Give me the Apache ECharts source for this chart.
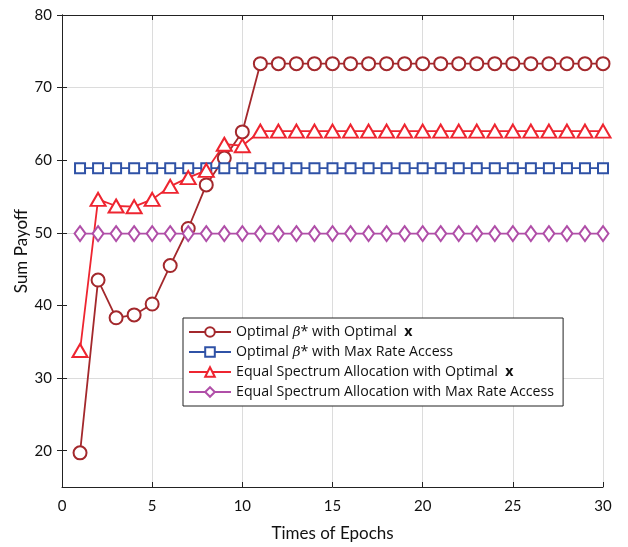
<!DOCTYPE html>
<html>
<head>
<meta charset="utf-8">
<script src="https://cdn.jsdelivr.net/npm/echarts@6/dist/echarts.min.js"></script>
<style>
  html, body { margin: 0; padding: 0; background: #fff; }
  #main { width: 628px; height: 547px; }
</style>
</head>
<body>
<div id="main"></div>
<script>
// 数据
var epochs = [];
for (var i = 1; i <= 30; i++) epochs.push(i);

var optBetaOptX = [19.7, 43.5, 38.3, 38.7, 40.2, 45.5, 50.6, 56.6, 60.3, 63.9,
    73.3, 73.3, 73.3, 73.3, 73.3, 73.3, 73.3, 73.3, 73.3, 73.3,
    73.3, 73.3, 73.3, 73.3, 73.3, 73.3, 73.3, 73.3, 73.3, 73.3];
var optBetaMaxRate = [58.9, 58.9, 58.9, 58.9, 58.9, 58.9, 58.9, 58.9, 58.9, 58.9,
    58.9, 58.9, 58.9, 58.9, 58.9, 58.9, 58.9, 58.9, 58.9, 58.9,
    58.9, 58.9, 58.9, 58.9, 58.9, 58.9, 58.9, 58.9, 58.9, 58.9];
var equalOptX = [33.8, 54.6, 53.7, 53.6, 54.6, 56.4, 57.6, 58.6, 62.2, 62.0,
    64.0, 64.0, 64.0, 64.0, 64.0, 64.0, 64.0, 64.0, 64.0, 64.0,
    64.0, 64.0, 64.0, 64.0, 64.0, 64.0, 64.0, 64.0, 64.0, 64.0];
var equalMaxRate = [49.9, 49.9, 49.9, 49.9, 49.9, 49.9, 49.9, 49.9, 49.9, 49.9,
    49.9, 49.9, 49.9, 49.9, 49.9, 49.9, 49.9, 49.9, 49.9, 49.9,
    49.9, 49.9, 49.9, 49.9, 49.9, 49.9, 49.9, 49.9, 49.9, 49.9];

var xTicks = [0, 5, 10, 15, 20, 25, 30];
var yTicks = [20, 30, 40, 50, 60, 70, 80];

var names = [
    'Optimal β* with Optimal x',
    'Optimal β* with Max Rate Access',
    'Equal Spectrum Allocation with Optimal x',
    'Equal Spectrum Allocation with Max Rate Access'
];
var legendText = {};
legendText[names[0]] = '{t|Optimal }{b|β}{t|* with Optimal  }{x|x}';
legendText[names[1]] = '{t|Optimal }{b|β}{t|* with Max Rate Access}';
legendText[names[2]] = '{t|Equal Spectrum Allocation with Optimal  }{x|x}';
legendText[names[3]] = '{t|Equal Spectrum Allocation with Max Rate Access}';

function pairs(arr) {
    return arr.map(function (v, i) { return [epochs[i], v]; });
}

var font = 'Lato, "Open Sans", sans-serif';
var legendFont = '"Open Sans", Lato, sans-serif';

var myChart = echarts.init(document.getElementById('main'));

var boxAxis = {
    axisLine: { show: true, lineStyle: { color: '#222', width: 1 } },
    axisTick: { show: true, inside: true, length: 5, lineStyle: { color: '#222' } },
    axisLabel: { show: false },
    splitLine: { show: false }
};

function lineSeries(name, data, color, symbol, size) {
    return {
        name: name,
        type: 'line',
        data: pairs(data),
        symbol: symbol,
        symbolSize: size,
        showAllSymbol: true,
        lineStyle: { color: color, width: 1.8 },
        itemStyle: { color: color, borderColor: color, borderWidth: 1.5 },
        emphasis: { disabled: true },
        z: 3
    };
}

var option = {
    backgroundColor: '#fff',
    animation: false,
    textStyle: { fontFamily: font },
    grid: { left: 62, right: 25, top: 15, bottom: 56 },
    legend: {
        left: 183,
        top: 318,
        orient: 'vertical',
        data: names,
        itemWidth: 42,
        itemHeight: 12,
        itemGap: 6,
        padding: [7, 9, 7, 5],
        borderColor: '#222',
        borderWidth: 1,
        backgroundColor: '#fff',
        formatter: function (name) { return legendText[name]; },
        textStyle: {
            rich: {
                t: { fontFamily: legendFont, fontSize: 14.2, color: '#111' },
                b: { fontFamily: '"DejaVu Serif", serif', fontStyle: 'italic', fontSize: 13.5, color: '#111' },
                x: { fontFamily: legendFont, fontWeight: 'bold', fontSize: 14.2, color: '#111' }
            }
        }
    },
    xAxis: [{
        type: 'value',
        min: 0,
        max: 30,
        interval: 5,
        name: 'Times of Epochs',
        nameLocation: 'middle',
        nameGap: 38,
        nameTextStyle: { fontFamily: font, fontSize: 17, color: '#111' },
        axisLine: { show: true, onZero: false, lineStyle: { color: '#222' } },
        axisTick: { show: true, inside: true, length: 5, lineStyle: { color: '#222' } },
        axisLabel: {
            fontFamily: font, fontSize: 15, color: '#111', margin: 12,
            customValues: xTicks
        },
        splitLine: { show: true, lineStyle: { color: '#dcdcdc', width: 1 } }
    }, Object.assign({
        type: 'value', min: 0, max: 30, interval: 5, position: 'top'
    }, boxAxis)],
    yAxis: [{
        type: 'value',
        min: 15,
        max: 80,
        interval: 5,
        name: 'Sum Payoff',
        nameLocation: 'middle',
        nameGap: 32,
        nameMoveOverlap: false,
        nameTextStyle: { fontFamily: font, fontSize: 17, color: '#111' },
        axisLine: { show: true, onZero: false, lineStyle: { color: '#222' } },
        axisTick: { show: true, inside: true, length: 5, lineStyle: { color: '#222' }, customValues: yTicks },
        axisLabel: {
            fontFamily: font, fontSize: 15, color: '#111', margin: 10,
            customValues: yTicks
        },
        splitLine: { show: true, lineStyle: { color: ['rgba(0,0,0,0)', '#dcdcdc'], width: 1 } }
    }, Object.assign({
        type: 'value', min: 15, max: 80, interval: 5, position: 'right'
    }, boxAxis, {
        axisTick: { show: true, inside: true, length: 5, lineStyle: { color: '#222' }, customValues: yTicks }
    })],
    series: [
        lineSeries(names[0], optBetaOptX, '#a3282c', 'emptyCircle', 13),
        lineSeries(names[1], optBetaMaxRate, '#2f52a6', 'emptyRect', 10),
        lineSeries(names[2], equalOptX, '#ee2530', 'emptyTriangle', [15, 13]),
        lineSeries(names[3], equalMaxRate, '#b04fa8', 'emptyDiamond', [11, 15])
    ]
};

myChart.setOption(option);
</script>
</body>
</html>
